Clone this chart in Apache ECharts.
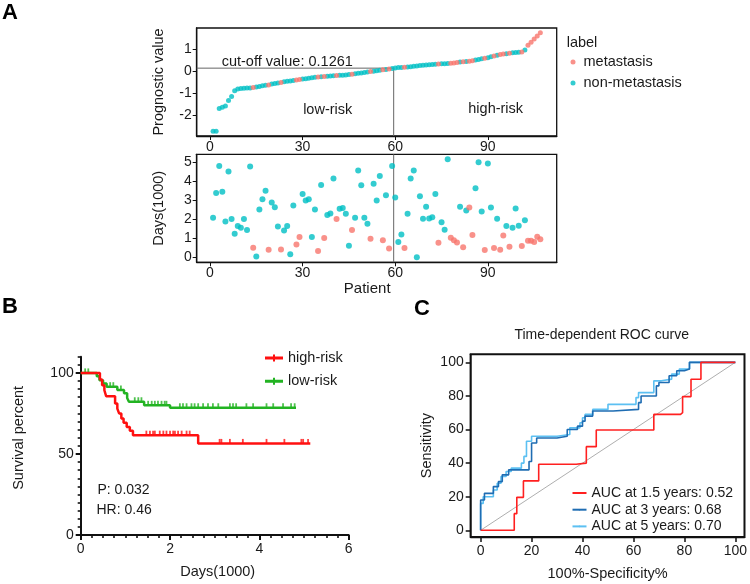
<!DOCTYPE html>
<html><head><meta charset="utf-8">
<script src="https://cdn.jsdelivr.net/npm/echarts@6/dist/echarts.min.js"></script>
<style>html,body{margin:0;padding:0;background:#fff}#c{width:750px;height:584px}</style>
</head><body><div id="c"></div>
<script>
const FONT = '"Liberation Sans", Arial, sans-serif';

// ---- Panel A data (patients sorted by prognostic value) ----
const riskScore = [
 -2.72,-2.72,-1.70,-1.64,-1.58,-1.34,-1.15,-0.90,-0.82,-0.79,
 -0.78,-0.77,-0.77,-0.75,-0.73,-0.70,-0.67,-0.65,-0.63,-0.59,
 -0.57,-0.55,-0.52,-0.49,-0.47,-0.45,-0.43,-0.41,-0.39,-0.37,
 -0.35,-0.33,-0.31,-0.29,-0.27,-0.26,-0.25,-0.24,-0.23,-0.22,
 -0.21,-0.20,-0.19,-0.18,-0.16,-0.15,-0.13,-0.11,-0.09,-0.07,
 -0.05,-0.03,-0.01,0.01,0.03,0.05,0.07,0.09,0.11,0.13,
 0.15,0.16,0.17,0.18,0.19,0.21,0.22,0.24,0.26,0.27,
 0.28,0.29,0.30,0.31,0.32,0.33,0.34,0.35,0.36,0.38,
 0.40,0.41,0.43,0.44,0.46,0.49,0.52,0.55,0.57,0.60,
 0.64,0.68,0.71,0.74,0.76,0.78,0.80,0.82,0.83,0.84,
 0.85,0.95,1.16,1.30,1.44,1.58,1.72];
const daysK = [
 2.09,3.40,4.82,3.47,1.89,4.53,2.02,1.25,1.65,1.56,
 2.02,1.44,4.79,0.51,0.05,2.53,3.07,3.51,0.40,2.89,
 2.65,1.63,0.42,1.42,1.65,0.16,2.74,0.68,1.07,3.35,
 3.00,3.07,1.07,2.53,0.33,3.82,1.02,2.23,2.32,4.16,
 2.02,2.56,2.60,2.30,0.61,1.44,2.09,4.58,3.81,2.09,
 1.77,0.98,3.89,3.00,4.30,0.91,3.28,0.47,4.82,3.16,
 0.81,1.21,0.49,2.30,4.16,4.58,0.00,3.23,2.04,2.67,
 2.05,2.12,3.35,0.77,1.86,1.46,5.18,1.04,0.91,0.79,
 2.67,0.53,2.47,2.63,1.18,3.65,5.02,2.42,0.39,4.96,
 2.63,0.49,2.04,0.40,1.16,1.65,0.56,1.56,2.58,1.67,
 0.60,1.96,0.88,0.88,0.81,1.09,0.95];
const metastasis = [
 0,0,0,0,0,0,0,0,0,0, 0,0,0,1,0,0,0,0,1,0,
 0,0,1,0,0,0,0,1,1,0, 0,0,0,0,1,0,1,0,0,0,
 1,0,0,0,0,1,0,0,0,0, 0,1,0,0,0,1,0,1,0,0,
 0,0,1,0,0,0,0,0,0,0, 0,0,0,1,0,0,0,1,1,1,
 0,1,0,1,1,0,0,0,1,0, 0,1,0,1,1,0,1,0,0,0,
 1,0,1,1,1,1,1];
const classNames = ['metastasis','non-metastasis'];
const cutoffValue = 0.1261;
const cutoffPatient = 59.5;
const patientTicks = [0,30,60,90];
const riskTicks = [-2,-1,0,1];
const daysTicks = [0,1,2,3,4,5];

// ---- Panel B data (Kaplan-Meier) ----
const kmHighT = [0,0.43,0.48,0.53,0.57,0.77,0.82,0.86,0.91,0.96,1.03,1.10,1.17,2.63,5.14];
const kmHighS = [100,95.9,92.4,89.3,85.6,81.1,78.0,75.0,71.9,69.2,66.7,64.3,61.6,56.5,56.5];
const kmHighCensor = [1.47,1.55,1.62,1.66,1.77,1.85,1.92,2.00,2.07,2.11,2.18,2.26,2.37,2.44,3.11,3.15,3.34,3.63,4.16,4.56,4.94,4.98,5.09];
const kmLowT = [0,0.36,0.42,0.50,0.58,0.82,0.97,1.04,1.08,1.42,2.00,4.82];
const kmLowS = [100,98.0,95.5,93.5,91.5,89.5,87.5,84.5,82.2,80.0,78.5,78.5];
const kmLowCensor = [0.10,0.17,0.66,0.73,0.90,1.21,1.29,1.36,1.51,1.59,1.66,1.73,1.81,1.88,1.92,2.22,2.29,2.37,2.48,2.55,2.63,2.74,2.85,2.96,3.08,3.34,3.41,3.48,3.71,3.86,4.16,4.31,4.53,4.71,4.79];
const kmGroups = ['high-risk','low-risk'];
const kmP = '0.032', kmHR = '0.46';
const kmXTicks = [0,2,4,6];
const kmYTicks = [0,50,100];

// ---- Panel C data (time-dependent ROC) ----
const aucYears = ['1.5','3','5'];
const aucValues = ['0.52','0.68','0.70'];
const roc15 = [[0,0],[13.2,0],[13.2,9.9],[14.2,9.9],[14.2,19.6],[16.8,19.6],[16.8,29.4],[22.8,29.4],[22.8,39.3],[37.5,39.3],[37.5,40],[41.5,40],[41.5,49.8],[45.4,49.8],[45.4,59.7],[68,59.7],[68,69],[78.5,69],[78.5,70],[79.3,70],[79.3,79.6],[82.6,79.6],[82.6,89.9],[86.5,89.9],[86.5,100],[100,100]];
const roc3 = [[0,0],[0,18],[1.5,18],[1.5,22],[5,22],[5,26],[7,26],[7,29],[8.5,29],[8.5,33],[11,33],[11,36],[19,36],[19,41],[20,41],[20,52],[22,52],[22,55],[30,55],[30,56],[34,56],[34,60],[38,60],[38,62],[40,62],[40,65],[41,65],[41,68],[44,68],[44,71],[52,71],[52,72],[62,72],[62,76],[63,76],[63,80],[69,80],[69,86],[70,86],[70,88],[74,88],[74,92],[77,92],[77,95],[80,95],[80,96],[82,96],[82,100],[100,100]];
const roc5 = [[0,0],[0,16],[1,16],[1,20],[5,20],[5,24],[6.5,24],[6.5,28],[8,28],[8,32],[10,32],[10,35],[12,35],[12,37],[16,37],[16,40],[17,40],[17,44],[18,44],[18,53],[20,53],[20,56],[30,56],[30,57],[35,57],[35,61],[39,61],[39,64],[40,64],[40,67],[41,67],[41,69],[44,69],[44,72],[50,72],[50,75],[61,75],[61,79],[62,79],[62,82],[68,82],[68,89],[71,89],[71,90],[75,90],[75,93],[78,93],[78,96],[82,96],[82,100],[100,100]];
const rocTicks = [0,20,40,60,80,100];

// ---- build ----
const COL_MET = '#F8766D', COL_NON = '#00BFC4';
const txt = '#1a1a1a';
const pts = (vals, cls) => vals.map((v,i)=>[i+1,v]).filter((d,i)=>metastasis[i]===cls);
const kmLine = (T,S) => T.map((t,i)=>[t,S[i]]);
const survAt = (T,S,t) => { let s=S[0]; for (let i=0;i<T.length;i++){ if (T[i]<=t) s=S[i]; } return s; };
const censorPts = (T,S,C) => C.map(t=>[t, survAt(T,S,t)]);
const aucNames = aucYears.map((y,i)=>'AUC at '+y+' years: '+aucValues[i]);
const kmXMinor = Array.from({length:25},(_,i)=>i*0.25);
const kmYMinor = Array.from({length:23},(_,i)=>i*5);

const A_X = [-4.3,112.3], A_Y1 = [-2.94,1.94], A_Y2 = [-0.26,5.44];

function vAxis(o){
  return Object.assign({
    type:'value', splitLine:{show:false},
    axisLine:{show:true, onZero:false, lineStyle:{color:'#111', width:1.3}},
    axisTick:{show:true, length:4, lineStyle:{color:'#111', width:1.2}},
    axisLabel:{color:txt, fontSize:14, fontFamily:FONT, margin:5},
    nameTextStyle:{color:txt, fontSize:14.5, fontFamily:FONT},
    nameLocation:'middle'
  }, o);
}

const option = {
  animation:false,
  backgroundColor:'#fff',
  textStyle:{fontFamily:FONT},
  grid:[
    {left:196.7, top:28, width:360, height:108, show:true, borderColor:'#111', borderWidth:1.3, backgroundColor:'transparent'},
    {left:196.7, top:154.3, width:360, height:108, show:true, borderColor:'#111', borderWidth:1.3, backgroundColor:'transparent'},
    {left:80.7, top:356.7, width:268, height:178.3},
    {left:470.7, top:354.3, width:275.3, height:182.7, show:true, borderColor:'#111', borderWidth:2, backgroundColor:'transparent'}
  ],
  xAxis:[
    vAxis({gridIndex:0, min:A_X[0], max:A_X[1], axisTick:{length:4, customValues:patientTicks, lineStyle:{color:'#111'}}, axisLabel:{customValues:patientTicks, color:txt, fontSize:14, fontFamily:FONT, margin:4}}),
    vAxis({gridIndex:1, min:A_X[0], max:A_X[1], name:'Patient', nameGap:18, nameTextStyle:{color:txt, fontSize:15, fontFamily:FONT, padding:[0,19,0,0]}, axisTick:{length:4, customValues:patientTicks, lineStyle:{color:'#111'}}, axisLabel:{customValues:patientTicks, color:txt, fontSize:14, fontFamily:FONT, margin:4}}),
    vAxis({gridIndex:2, position:'bottom', min:0, max:6, name:'Days(1000)', nameGap:29, nameTextStyle:{color:txt, fontSize:14.5, fontFamily:FONT, padding:[0,0,0,6]}, axisLine:{show:true, onZero:false, lineStyle:{color:'#111', width:2}}, axisTick:{length:5, customValues:kmXTicks, lineStyle:{color:'#111', width:2}}, axisLabel:{customValues:kmXTicks, color:txt, fontSize:14, fontFamily:FONT, margin:7}}),
    vAxis({gridIndex:2, position:'bottom', min:0, max:6, axisLine:{show:false}, axisTick:{length:3, customValues:kmXMinor, lineStyle:{color:'#111', width:1.6}}, axisLabel:{show:false}}),
    vAxis({gridIndex:3, min:-3.9, max:103.6, name:'100%-Specificity%', nameGap:29, axisTick:{length:5, customValues:rocTicks, lineStyle:{color:'#111', width:1.5}}, axisLabel:{customValues:rocTicks, color:txt, fontSize:14, fontFamily:FONT, margin:7}})
  ],
  yAxis:[
    vAxis({gridIndex:0, min:A_Y1[0], max:A_Y1[1], name:'Prognostic value', nameGap:30, axisTick:{length:4, customValues:riskTicks, lineStyle:{color:'#111'}}, axisLabel:{customValues:riskTicks, color:txt, fontSize:14, fontFamily:FONT, margin:5}}),
    vAxis({gridIndex:1, min:A_Y2[0], max:A_Y2[1], name:'Days(1000)', nameGap:30, axisTick:{length:4, customValues:daysTicks, lineStyle:{color:'#111'}}, axisLabel:{customValues:daysTicks, color:txt, fontSize:14, fontFamily:FONT, margin:5}}),
    vAxis({gridIndex:2, position:'left', min:0, max:110, name:'Survival percent', nameGap:54, nameTextStyle:{color:txt, fontSize:14.5, fontFamily:FONT, padding:[0,0,0,16]}, axisLine:{show:true, onZero:false, lineStyle:{color:'#111', width:2}}, axisTick:{length:5, customValues:kmYTicks, lineStyle:{color:'#111', width:2}}, axisLabel:{customValues:kmYTicks, color:txt, fontSize:14, fontFamily:FONT, margin:7}}),
    vAxis({gridIndex:2, position:'left', min:0, max:110, axisLine:{show:false}, axisTick:{length:3, customValues:kmYMinor, lineStyle:{color:'#111', width:1.6}}, axisLabel:{show:false}}),
    vAxis({gridIndex:3, min:-4, max:104.8, name:'Sensitivity', nameGap:36, axisTick:{length:5, customValues:rocTicks, lineStyle:{color:'#111', width:1.5}}, axisLabel:{customValues:rocTicks, color:txt, fontSize:14, fontFamily:FONT, margin:7}})
  ],
  legend:[
    {data:classNames, orient:'vertical', left:570.5, top:54, padding:0, icon:'circle', itemWidth:11, itemHeight:5, itemGap:5, symbolKeepAspect:true,
     textStyle:{fontSize:14.5, fontFamily:FONT, color:txt, lineHeight:16}},
    {data:[{name:kmGroups[0], icon:'path://M0,2h18v3h-18z M8,0h2v7h-2z'},{name:kmGroups[1], icon:'path://M0,2h18v3h-18z M8,0h2v7h-2z'}],
     orient:'vertical', left:265, top:350, padding:0, itemWidth:18, itemHeight:7, itemGap:7.3,
     textStyle:{fontSize:14.5, fontFamily:FONT, color:txt, lineHeight:16}},
    {data:aucNames, orient:'vertical', left:571.5, top:485, padding:0, itemWidth:14, itemHeight:2, itemGap:0.7,
     textStyle:{fontSize:14, fontFamily:FONT, color:txt, lineHeight:16}}
  ],
  graphic:{elements:[
    {type:'text', left:2, top:2, style:{text:'A', font:'bold 22px '+FONT, fill:'#000'}},
    {type:'text', left:2, top:296, style:{text:'B', font:'bold 22px '+FONT, fill:'#000'}},
    {type:'text', left:414, top:298, style:{text:'C', font:'bold 22px '+FONT, fill:'#000'}},
    {type:'text', x:566.7, y:43, style:{text:'label', font:'14.5px '+FONT, fill:txt, textVerticalAlign:'middle'}},
    {type:'text', x:221.7, y:61.5, style:{text:'cut-off value: '+cutoffValue, font:'14.5px '+FONT, fill:txt, textVerticalAlign:'middle'}},
    {type:'text', x:327.7, y:109.5, style:{text:'low-risk', font:'14.5px '+FONT, fill:txt, textAlign:'center', textVerticalAlign:'middle'}},
    {type:'text', x:495.7, y:109, style:{text:'high-risk', font:'14.5px '+FONT, fill:txt, textAlign:'center', textVerticalAlign:'middle'}},
    {type:'text', x:97.5, y:490, style:{text:'P: '+kmP, font:'14px '+FONT, fill:txt, textVerticalAlign:'middle'}},
    {type:'text', x:96.5, y:510, style:{text:'HR: '+kmHR, font:'14px '+FONT, fill:txt, textVerticalAlign:'middle'}},
    {type:'text', x:601.7, y:335, style:{text:'Time-dependent ROC curve', font:'14px '+FONT, fill:txt, textAlign:'center', textVerticalAlign:'middle'}}
  ]},
  series:[
    {name:classNames[1], type:'scatter', xAxisIndex:0, yAxisIndex:0, data:pts(riskScore,0), symbolSize:5, itemStyle:{color:COL_NON}},
    {name:classNames[0], type:'scatter', xAxisIndex:0, yAxisIndex:0, data:pts(riskScore,1), symbolSize:5, itemStyle:{color:COL_MET}},
    {name:'cutoff', type:'line', xAxisIndex:0, yAxisIndex:0, data:[[A_X[0],cutoffValue],[cutoffPatient,cutoffValue],[cutoffPatient,A_Y1[0]]], symbol:'none', silent:true, z:1, lineStyle:{color:'#666', width:1}},
    {name:classNames[1], type:'scatter', xAxisIndex:1, yAxisIndex:1, data:pts(daysK,0), symbolSize:6, itemStyle:{color:COL_NON}},
    {name:classNames[0], type:'scatter', xAxisIndex:1, yAxisIndex:1, data:pts(daysK,1), symbolSize:6, itemStyle:{color:COL_MET}},
    {name:'cutoff2', type:'line', xAxisIndex:1, yAxisIndex:1, data:[[cutoffPatient,A_Y2[0]],[cutoffPatient,A_Y2[1]]], symbol:'none', silent:true, z:1, lineStyle:{color:'#666', width:1}},
    {name:kmGroups[1], type:'line', xAxisIndex:2, yAxisIndex:2, step:'end', data:kmLine(kmLowT,kmLowS), symbol:'none', itemStyle:{color:'#22b322'}, lineStyle:{color:'#22b322', width:2.5}},
    {name:kmGroups[0], type:'line', xAxisIndex:2, yAxisIndex:2, step:'end', data:kmLine(kmHighT,kmHighS), symbol:'none', itemStyle:{color:'#ff1010'}, lineStyle:{color:'#ff1010', width:2.5}},
    {name:'low censored', type:'scatter', xAxisIndex:2, yAxisIndex:2, data:censorPts(kmLowT,kmLowS,kmLowCensor), symbol:'rect', symbolSize:[1.8,5], symbolOffset:[0,-2], itemStyle:{color:'#22b322'}},
    {name:'high censored', type:'scatter', xAxisIndex:2, yAxisIndex:2, data:censorPts(kmHighT,kmHighS,kmHighCensor), symbol:'rect', symbolSize:[1.8,5], symbolOffset:[0,-2], itemStyle:{color:'#ff1010'}},
    {name:'diag', type:'line', xAxisIndex:4, yAxisIndex:4, data:[[0,0],[100,100]], symbol:'none', silent:true, lineStyle:{color:'#999', width:0.8}},
    {name:aucNames[2], type:'line', xAxisIndex:4, yAxisIndex:4, data:roc5, symbol:'none', itemStyle:{color:'#5cc0f2'}, lineStyle:{color:'#5cc0f2', width:1.6}},
    {name:aucNames[1], type:'line', xAxisIndex:4, yAxisIndex:4, data:roc3, symbol:'none', itemStyle:{color:'#1f6db3'}, lineStyle:{color:'#1f6db3', width:1.6}},
    {name:aucNames[0], type:'line', xAxisIndex:4, yAxisIndex:4, data:roc15, symbol:'none', itemStyle:{color:'#ff2020'}, lineStyle:{color:'#ff2020', width:1.6}}
  ]
};
const chart = echarts.init(document.getElementById('c'), null, {renderer:'canvas'});
chart.setOption(option);
</script>
</body></html>
